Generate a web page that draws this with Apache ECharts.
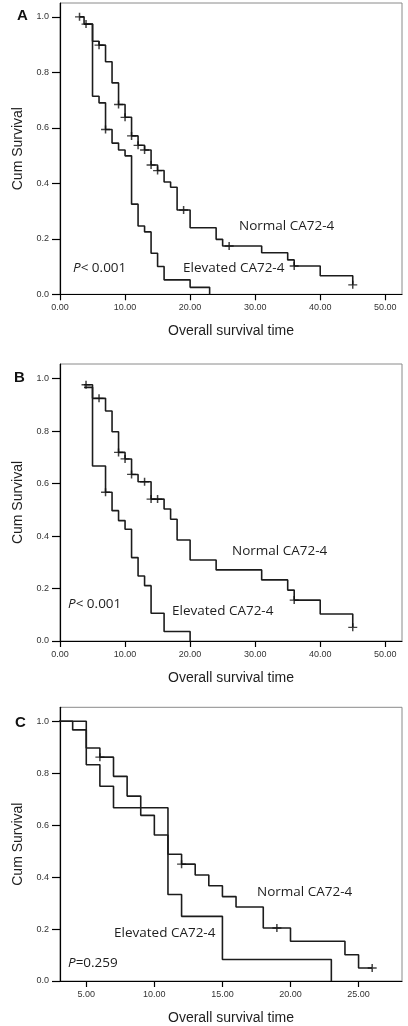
<!DOCTYPE html>
<html><head><meta charset="utf-8">
<script src="https://cdn.jsdelivr.net/npm/echarts@6/dist/echarts.min.js"></script>
<style>html,body{margin:0;padding:0;background:#fff}#c{width:408px;height:1026px}</style>
</head><body><div id="c"></div>
<script>
// ---------- data (time, cumulative survival) ----------
const normalA = [[3,1.0],[3.7,0.974],[5,0.912],[6,0.898],[7,0.838],[8,0.762],[9,0.684],[10,0.638],[11,0.571],[12,0.537],[13,0.520],[14,0.466],[15,0.446],[16,0.405],[17,0.386],[18,0.304],[20,0.240],[24,0.198],[25,0.174],[31,0.150],[35,0.124],[36,0.102],[40,0.067],[45,0.034]];
const normalACensor = [[3,1.0],[4,0.974],[6,0.898],[9,0.684],[10,0.638],[11,0.571],[12,0.537],[13,0.520],[14,0.466],[15,0.446],[19,0.304],[26,0.174],[36,0.102],[45,0.034]];
const elevatedA = [[3.7,0.974],[5,0.714],[6,0.690],[7,0.594],[8,0.545],[9,0.520],[10,0.499],[11,0.325],[12,0.246],[13,0.225],[14,0.148],[15,0.100],[16,0.052],[20,0.025],[23,0.0]];
const elevatedACensor = [[7,0.594]];

const normalB = [[3.7,0.977],[5,0.925],[7,0.877],[8,0.798],[9,0.719],[10,0.694],[11,0.635],[12,0.607],[14,0.541],[16,0.503],[17,0.464],[18,0.385],[20,0.309],[24,0.271],[31,0.233],[35,0.194],[36,0.156],[40,0.103],[45,0.052]];
const normalBCensor = [[4,0.977],[6,0.925],[9,0.719],[10,0.694],[11,0.635],[13,0.607],[14,0.541],[15,0.541],[36,0.156],[45,0.052]];
const elevatedB = [[3.7,0.967],[5,0.667],[7,0.567],[8,0.497],[9,0.459],[10,0.426],[11,0.318],[12,0.248],[13,0.211],[14,0.106],[16,0.036],[20,0.0]];
const elevatedBCensor = [[7,0.567]];

const normalC = [[3,1.0],[4,0.967],[5,0.897],[6,0.862],[7,0.788],[8,0.712],[9,0.638],[10,0.562],[11,0.488],[12,0.450],[13,0.408],[14,0.367],[15,0.325],[16,0.285],[18,0.204],[20,0.153],[24,0.101],[25,0.050],[26,0.050]];
const normalCCensor = [[3,1.0],[6,0.862],[12,0.450],[19,0.204],[26,0.050]];
const elevatedC = [[3,1.0],[5,0.833],[6,0.750],[7,0.667],[11,0.333],[12,0.249],[15,0.083],[23,0.0]];
const elevatedCCensor = [];

const xTicksAB = [0,10,20,30,40,50];
const xTicksC = [5,10,15,20,25];
const yTicks = [0,0.2,0.4,0.6,0.8,1.0];
const panelLabels = ['A','B','C'];
const pLabels = ['< 0.001','< 0.001','=0.259'];
const xTitle = 'Overall survival time';
const yTitle = 'Cum Survival';
// ------------------------------------------------------

const chart = echarts.init(document.getElementById('c'), null, {renderer:'canvas'});
const ink = '#1e1e1e';
const curveColor = '#1c1c1c';
const plus = 'path://M3.75,0h1.5v3.75h3.75v1.5h-3.75v3.75h-1.5v-3.75h-3.75v-1.5h3.75z';

const grids = [
  {left:60, right:6, top:3, height:291.3},
  {left:60, right:6, top:364, height:277},
  {left:60, right:6, top:707.3, height:275.4}
].map(g => Object.assign({show:true, borderColor:'#8a8a8a', borderWidth:1, backgroundColor:'#fff'}, g));

const xRanges = [[0,52.57],[0,52.57],[3.07,28.19]];
const yMax = [1.05,1.056,1.054];
const xTickSets = [xTicksAB, xTicksAB, xTicksC];

const xAxes = xRanges.map((r,i) => ({
  type:'value', gridIndex:i, min:r[0], max:r[1],
  name: xTitle, nameLocation:'middle', nameGap:30,
  nameTextStyle:{fontFamily:'Liberation Sans, Arial', fontSize:14, color:ink},
  axisLine:{show:true, onZero:false, lineStyle:{color:'#000', width:1.2}},
  axisTick:{show:true, length:6, inside:false, customValues:xTickSets[i], lineStyle:{color:'#000', width:1.2}},
  axisLabel:{customValues:xTickSets[i], margin:9, fontFamily:'Liberation Sans, Arial', fontSize:9, color:'#333',
    formatter:v => v.toFixed(2)},
  splitLine:{show:false}
}));
const yAxes = yMax.map((m,i) => ({
  type:'value', gridIndex:i, min:0, max:m,
  name: yTitle, nameLocation:'middle', nameGap:26, nameRotate:90,
  nameTextStyle:{fontFamily:'Liberation Sans, Arial', fontSize:14, color:ink},
  axisLine:{show:true, onZero:false, lineStyle:{color:'#000', width:1.2}},
  axisTick:{show:true, length:8, customValues:yTicks, lineStyle:{color:'#000', width:1.2}},
  axisLabel:{customValues:yTicks, margin:11, fontFamily:'Liberation Sans, Arial', fontSize:9, color:'#333',
    formatter:v => v.toFixed(1)},
  splitLine:{show:false}
}));

const curves = [[normalA, elevatedA],[normalB, elevatedB],[normalC, elevatedC]];
const censors = [[normalACensor, elevatedACensor],[normalBCensor, elevatedBCensor],[normalCCensor, elevatedCCensor]];
const series = [];
curves.forEach((pair,i) => {
  pair.forEach((d,k) => series.push({
    type:'line', name:(k?'Elevated':'Normal')+i, xAxisIndex:i, yAxisIndex:i, data:d, step:'end',
    symbol:'none', lineStyle:{color:curveColor, width:1.6}, z:3, silent:true
  }));
  series.push({
    type:'scatter', xAxisIndex:i, yAxisIndex:i, data:censors[i][0].concat(censors[i][1]),
    symbol:plus, symbolSize:[9,8], itemStyle:{color:'#111'}, z:4, silent:true
  });
});

const annot = [
  {n:[239,226], e:[183,268], p:[73,268], lab:[17,16]},
  {n:[232,551], e:[172,611], p:[68,604], lab:[14,378]},
  {n:[257,892], e:[114,933], p:[68,963], lab:[15,723]}
];
const font = '13.5px "Open Sans", sans-serif';
const graphic = [];
annot.forEach((a,i) => {
  graphic.push({type:'text', x:a.n[0], y:a.n[1], z:10, style:{text:'Normal CA72-4', fill:ink, font:font, verticalAlign:'middle'}});
  graphic.push({type:'text', x:a.e[0], y:a.e[1], z:10, style:{text:'Elevated CA72-4', fill:ink, font:font, verticalAlign:'middle'}});
  graphic.push({type:'text', x:a.p[0], y:a.p[1], z:10, style:{text:'{i|P}'+pLabels[i], fill:ink, font:font, verticalAlign:'middle',
    rich:{i:{fontStyle:'italic', fontSize:13.5, fontFamily:'Open Sans'}}}});
  graphic.push({type:'text', x:a.lab[0], y:a.lab[1], z:10, style:{text:panelLabels[i], fill:'#111', font:'bold 15px "Liberation Sans", Arial', verticalAlign:'middle'}});
});

chart.setOption({
  animation:false,
  grid:grids, xAxis:xAxes, yAxis:yAxes, series:series, graphic:graphic
});
</script></body></html>
